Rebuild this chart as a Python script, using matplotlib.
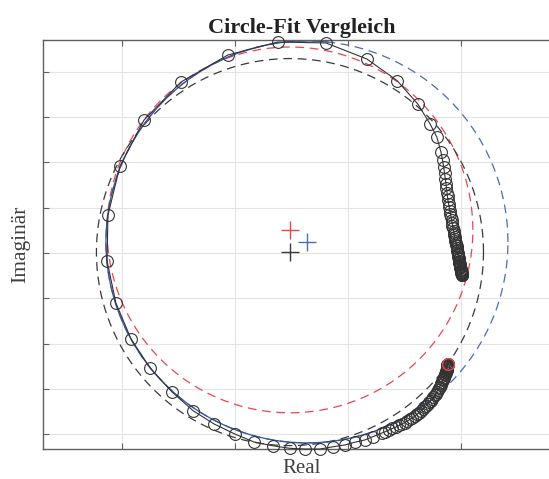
import matplotlib
matplotlib.use("Agg")
import matplotlib.pyplot as plt
import numpy as np

plt.rcParams['font.family'] = ['Liberation Serif', 'DejaVu Serif']

# measured points (real / imaginary part), read off the reference
# dense run at the right, upwards
re_start = [1.002, 1.002, 1.002, 1.001, 1.001, 1.001, 1.001, 1.000, 1.000, 0.999,
            0.999, 0.998, 0.998, 0.997, 0.996, 0.996, 0.995, 0.994, 0.993, 0.993,
            0.992, 0.991, 0.990, 0.989, 0.988, 0.987, 0.986, 0.985, 0.984, 0.982,
            0.981, 0.980, 0.979, 0.977, 0.976, 0.974, 0.972, 0.971, 0.969, 0.968,
            0.966, 0.963, 0.961, 0.959, 0.957, 0.955, 0.952, 0.950, 0.947, 0.944,
            0.941, 0.939, 0.937, 0.934, 0.932, 0.929, 0.926, 0.922, 0.917, 0.910]
im_start = [-0.099, -0.098, -0.096, -0.095, -0.093, -0.091, -0.089, -0.087, -0.085, -0.082,
            -0.080, -0.077, -0.074, -0.071, -0.067, -0.064, -0.060, -0.056, -0.052, -0.048,
            -0.043, -0.038, -0.034, -0.028, -0.023, -0.017, -0.011, -0.005, 0.001, 0.008,
            0.014, 0.021, 0.029, 0.036, 0.044, 0.053, 0.062, 0.071, 0.080, 0.088,
            0.099, 0.110, 0.121, 0.133, 0.146, 0.159, 0.172, 0.186, 0.201, 0.216,
            0.232, 0.250, 0.267, 0.287, 0.307, 0.329, 0.353, 0.380, 0.411, 0.446]
# sparse part over the top, left side and bottom
re_mid = [0.892, 0.861, 0.808, 0.716, 0.583, 0.402, 0.190, -0.031, -0.239, -0.402,
          -0.508, -0.561, -0.565, -0.526, -0.459, -0.375, -0.278, -0.186, -0.093, 0.000,
          0.084, 0.168, 0.243, 0.309, 0.375, 0.434, 0.486, 0.530, 0.574, 0.611, 0.648]
im_mid = [0.512, 0.572, 0.658, 0.762, 0.857, 0.928, 0.932, 0.875, 0.755, 0.587,
          0.384, 0.168, -0.035, -0.221, -0.380, -0.508, -0.614, -0.696, -0.755, -0.800,
          -0.835, -0.852, -0.863, -0.866, -0.866, -0.856, -0.848, -0.836, -0.826, -0.811,
          -0.796]
# dense run at the lower right
re_end = [0.665, 0.680, 0.696, 0.711, 0.724, 0.738, 0.750, 0.762, 0.773, 0.784,
          0.794, 0.804, 0.813, 0.822, 0.830, 0.837, 0.845, 0.852, 0.859, 0.866,
          0.871, 0.877, 0.883, 0.888, 0.892, 0.897, 0.901, 0.905, 0.909, 0.912,
          0.916, 0.919, 0.921, 0.923, 0.925, 0.928, 0.929, 0.931, 0.932, 0.934,
          0.935, 0.936, 0.936, 0.937, 0.937, 0.938, 0.938, 0.938, 0.938, 0.939,
          0.939, 0.939]
im_end = [-0.789, -0.782, -0.775, -0.769, -0.762, -0.755, -0.749, -0.742, -0.735, -0.729,
          -0.721, -0.713, -0.706, -0.698, -0.690, -0.682, -0.675, -0.667, -0.659, -0.652,
          -0.644, -0.636, -0.629, -0.621, -0.613, -0.605, -0.598, -0.590, -0.583, -0.576,
          -0.570, -0.563, -0.557, -0.552, -0.546, -0.541, -0.536, -0.531, -0.527, -0.523,
          -0.519, -0.515, -0.511, -0.508, -0.505, -0.502, -0.500, -0.497, -0.495, -0.493,
          -0.491, -0.490]

re_meas = re_start + re_mid + re_end
im_meas = im_start + im_mid + im_end

# fitted circles: centre real, centre imag, radius
fit_names = ['blue', 'red', 'black']
fit_xc = [0.318, 0.243, 0.243]
fit_yc = [0.049, 0.102, 0.004]
fit_r = [0.888, 0.808, 0.855]
fit_colors = ['#4a6cb3', '#e8474f', '#3a3a3a']

# angular range (deg) of the solid blue model arc
arc_start, arc_end = -276, -50

fig = plt.figure(figsize=(5.49, 4.79), dpi=100)
ax = fig.add_axes([43 / 549, 30 / 479, 517 / 549, 409 / 479])

ax.set_xlim(-0.848, 1.436)
ax.set_ylim(-0.866, 0.941)
ax.set_xticks([-0.5, 0.0, 0.5, 1.0])
ax.set_yticks(np.arange(-0.8, 0.81, 0.2))
ax.set_xticklabels([])
ax.set_yticklabels([])
ax.tick_params(direction='in', length=4, width=0.8, color='#606060',
               top=True, right=True)
ax.grid(True, color='#e4e4e4', linewidth=0.8)
ax.set_axisbelow(True)
for s in ax.spines.values():
    s.set_color('#606060')
    s.set_linewidth(1.0)

t = np.linspace(0, 2 * np.pi, 400)
for xc, yc, r, c in zip(fit_xc, fit_yc, fit_r, fit_colors):
    ax.plot(xc + r * np.cos(t), yc + r * np.sin(t), color=c, lw=0.9,
            dashes=(7, 4.5))

# solid blue arc along the data
ta = np.radians(np.linspace(arc_start, arc_end, 300))
ax.plot(fit_xc[0] + fit_r[0] * np.cos(ta), fit_yc[0] + fit_r[0] * np.sin(ta),
        color='#3355a0', lw=0.9)

ax.plot(re_meas, im_meas, '-o', color='#333333', lw=0.8, ms=8.5,
        mfc='none', mec='#333333', mew=0.8, clip_on=False, zorder=4)
ax.plot(re_meas[-1], im_meas[-1], 'o', ms=8.5, mfc='none', mec='#e8474f',
        mew=1.0, zorder=5)

# centres
for xc, yc, c in zip(fit_xc, fit_yc, fit_colors):
    ax.plot(xc, yc, '+', color=c, ms=13, mew=1.0, zorder=6)

ax.set_title('Circle-Fit Vergleich', fontsize=16, fontweight='bold',
             color='#222222', pad=5)
ax.set_xlabel('Real', fontsize=15, color='#404040', labelpad=4)
ax.set_ylabel('Imaginär', fontsize=15.5, color='#404040', labelpad=6)

fig.savefig('out.png', dpi=100)
